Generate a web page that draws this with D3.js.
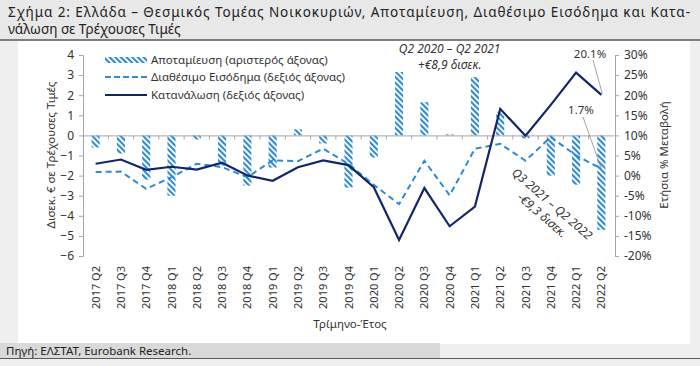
<!DOCTYPE html>
<html><head><meta charset="utf-8">
<script src="https://cdn.jsdelivr.net/npm/d3@7"></script>
<style>html,body{margin:0;padding:0;background:#efefef;}svg{display:block;}</style>
</head><body>
<svg id="c" width="700" height="366"></svg>
<script>
const categories = ["2017 Q2","2017 Q3","2017 Q4","2018 Q1","2018 Q2","2018 Q3","2018 Q4","2019 Q1","2019 Q2","2019 Q3","2019 Q4","2020 Q1","2020 Q2","2020 Q3","2020 Q4","2021 Q1","2021 Q2","2021 Q3","2021 Q4","2022 Q1","2022 Q2"];
const savings = [-0.6,-0.9,-2.2,-3.0,-0.2,-1.5,-2.5,-1.6,0.3,-0.4,-2.6,-1.1,3.15,1.65,0.05,2.9,1.15,-0.15,-2.0,-2.45,-4.7];
const income = [0.9,1.0,-3.3,-0.4,2.95,2.1,-0.4,3.8,3.6,6.7,2.9,-2.3,-7.1,3.7,-4.9,6.7,7.9,3.7,9.6,5.0,1.7];
const consumption = [2.95,4.0,1.45,2.2,1.5,3.2,0.05,-1.3,2.1,3.8,2.6,-2.9,-16.0,-3.1,-12.6,-7.7,16.6,9.9,17.6,25.6,20.1];
const leftTicks = [-6,-5,-4,-3,-2,-1,0,1,2,3,4];
const rightTicks = [-20,-15,-10,-5,0,5,10,15,20,25,30];
const seriesNames = ["Αποταμίευση (αριστερός άξονας)","Διαθέσιμο Εισόδημα (δεξιός άξονας)","Κατανάλωση (δεξιός άξονας)"];
const titleLines = ["Σχήμα 2: Ελλάδα – Θεσμικός Τομέας Νοικοκυριών, Αποταμίευση, Διαθέσιμο Εισόδημα και Κατα-","νάλωση σε Τρέχουσες Τιμές"];
const sourceText = "Πηγή: ΕΛΣΤΑΤ, Eurobank Research.";

const FONT = "'Noto Sans', 'DejaVu Sans', sans-serif";
const TXT = "#333333";
const BLUE = "#2f8ad3";
const NAVY = "#14266b";

const svg = d3.select("#c").style("font-family", FONT);

// backgrounds
svg.append("rect").attr("x",0).attr("y",0).attr("width",700).attr("height",366).attr("fill","#efefef");
svg.append("rect").attr("x",0).attr("y",0).attr("width",700).attr("height",40).attr("fill","#e8e8e8");
svg.append("rect").attr("x",18).attr("y",41).attr("width",672).attr("height",303).attr("fill","#ffffff");
svg.append("rect").attr("x",0).attr("y",343).attr("width",440).attr("height",15).attr("fill","#d9d9d9");
svg.append("line").attr("x1",0).attr("x2",700).attr("y1",40).attr("y2",40).attr("stroke","#5a5a5a").attr("stroke-width",1.5);
svg.append("line").attr("x1",0).attr("x2",700).attr("y1",358.5).attr("y2",358.5).attr("stroke","#5a5a5a").attr("stroke-width",1.2);

// title
const tl = svg.append("g");
titleLines.forEach((t,i)=>{
  tl.append("text").attr("x",8).attr("y",17+i*17).attr("font-size",13.5).attr("fill","#222").text(t);
});
const first = tl.select("text");
const w0 = first.node().getComputedTextLength();
if (w0 < 682) first.attr("textLength",682).attr("lengthAdjust","spacing");

svg.append("text").attr("x",6).attr("y",355).attr("font-size",11.5).attr("fill","#222").text(sourceText);

// pattern
const defs = svg.append("defs");
const pat = defs.append("pattern").attr("id","hatch").attr("patternUnits","userSpaceOnUse")
  .attr("width",4).attr("height",4).attr("patternTransform","rotate(-45)");
pat.append("rect").attr("width",4).attr("height",4).attr("fill","#ffffff");
pat.append("rect").attr("x",0).attr("y",0).attr("width",2.1).attr("height",4).attr("fill",BLUE);

// scales
const x = d3.scaleBand().domain(categories).range([83,614]).paddingInner(0.68).paddingOuter(0.34);
const yL = d3.scaleLinear().domain([-6,4]).range([256,55]);
const yR = d3.scaleLinear().domain([-20,30]).range([256,55]);
const cx = d => x(d) + x.bandwidth()/2;

// bars
svg.append("g").selectAll("rect").data(categories).join("rect")
  .attr("x", d => x(d))
  .attr("width", x.bandwidth())
  .attr("y", (d,i) => yL(Math.max(0, savings[i])))
  .attr("height", (d,i) => Math.abs(yL(savings[i]) - yL(0)))
  .attr("fill","url(#hatch)");

// zero line + category ticks
const xAxis = svg.append("g").attr("transform",`translate(0,${yL(0)})`)
  .call(d3.axisBottom(x).tickSize(0).tickFormat(""));
xAxis.select(".domain").attr("stroke","#a6a6a6").attr("stroke-width",1);
const step = x.step();
const bounds = d3.range(1, categories.length).map(i => 83 + i*step);
svg.append("g").selectAll("line").data(bounds).join("line")
  .attr("x1",d=>d).attr("x2",d=>d).attr("y1",yL(0)).attr("y2",yL(0)+4)
  .attr("stroke","#a6a6a6").attr("stroke-width",1);

// x labels at bottom
svg.append("g").selectAll("text").data(categories).join("text")
  .attr("transform", d => `translate(${cx(d)+4},266) rotate(-90)`)
  .attr("text-anchor","end").attr("font-size",11).attr("fill",TXT).text(d=>d);

// left axis
const la = svg.append("g").attr("transform","translate(83,0)")
  .call(d3.axisLeft(yL).tickValues(leftTicks).tickSize(4).tickPadding(5).tickFormat(d3.format("d")));
la.select(".domain").attr("stroke","#a6a6a6");
la.selectAll(".tick line").attr("stroke","#a6a6a6");
la.selectAll("text").attr("font-size",12).attr("fill",TXT).attr("font-family",FONT);

// right axis
const ra = svg.append("g").attr("transform","translate(615,0)")
  .call(d3.axisRight(yR).tickValues(rightTicks).tickSize(4).tickPadding(5).tickFormat(d => d + "%"));
ra.select(".domain").attr("stroke","#a6a6a6");
ra.selectAll(".tick line").attr("stroke","#a6a6a6");
ra.selectAll("text").attr("font-size",12).attr("fill",TXT).attr("font-family",FONT);

// axis titles
svg.append("text").attr("transform","translate(55,155) rotate(-90)").attr("text-anchor","middle")
  .attr("font-size",11.5).attr("fill",TXT).text("Δισεκ. € σε Τρέχουσες Τιμές");
svg.append("text").attr("transform","translate(668,155) rotate(-90)").attr("text-anchor","middle")
  .attr("font-size",11.5).attr("fill",TXT).text("Ετήσια % Μεταβολή");
svg.append("text").attr("x",350).attr("y",328).attr("text-anchor","middle")
  .attr("font-size",11.5).attr("fill",TXT).text("Τρίμηνο-Έτος");

// lines
const lineR = d3.line().x((d,i)=>cx(categories[i])).y(d=>yR(d));
svg.append("path").attr("d", lineR(income)).attr("fill","none").attr("stroke",BLUE)
  .attr("stroke-width",2).attr("stroke-dasharray","6,4");
svg.append("path").attr("d", lineR(consumption)).attr("fill","none").attr("stroke",NAVY)
  .attr("stroke-width",2.2).attr("stroke-linejoin","miter");

// legend
const lg = svg.append("g");
lg.append("rect").attr("x",105).attr("y",57).attr("width",42).attr("height",6).attr("fill","url(#hatch)");
lg.append("line").attr("x1",105).attr("x2",147).attr("y1",77).attr("y2",77).attr("stroke",BLUE).attr("stroke-width",2).attr("stroke-dasharray","6,3");
lg.append("line").attr("x1",105).attr("x2",147).attr("y1",95).attr("y2",95).attr("stroke",NAVY).attr("stroke-width",2.2);
[60,77,95].forEach((y,i)=>{
  lg.append("text").attr("x",151).attr("y",y+4).attr("font-size",11.5).attr("fill",TXT).text(seriesNames[i]);
});

// annotations
const ann = svg.append("g").attr("font-style","italic").attr("fill",TXT).attr("font-size",12);
const midA = (cx("2020 Q2")+cx("2021 Q2"))/2;
ann.append("text").attr("x",midA).attr("y",53).attr("text-anchor","middle").text("Q2 2020 – Q2 2021");
ann.append("text").attr("x",midA).attr("y",69).attr("text-anchor","middle").text("+€8,9 δισεκ.");
const rg = ann.append("g").attr("transform","translate(552,204) rotate(41)");
rg.append("text").attr("x",0).attr("y",4).attr("text-anchor","middle").text("Q3 2021 – Q2 2022");
rg.append("text").attr("x",0).attr("y",19).attr("text-anchor","middle").text("-€9,3 δισεκ.");

// value labels with leaders
const lastC = categories[categories.length-1];
svg.append("line").attr("x1",593).attr("y1",60).attr("x2",cx(lastC)+1).attr("y2",yR(consumption[20])-1)
  .attr("stroke","#8c8c8c").attr("stroke-width",0.8);
svg.append("text").attr("x",590).attr("y",58).attr("text-anchor","middle").attr("font-size",11.5).attr("fill",TXT)
  .text(consumption[20].toFixed(1)+"%");
svg.append("line").attr("x1",583).attr("y1",117).attr("x2",cx(lastC)).attr("y2",yR(income[20]))
  .attr("stroke","#8c8c8c").attr("stroke-width",0.8);
svg.append("text").attr("x",581).attr("y",114).attr("text-anchor","middle").attr("font-size",11.5).attr("fill",TXT)
  .text(income[20].toFixed(1)+"%");
</script>
</body></html>
